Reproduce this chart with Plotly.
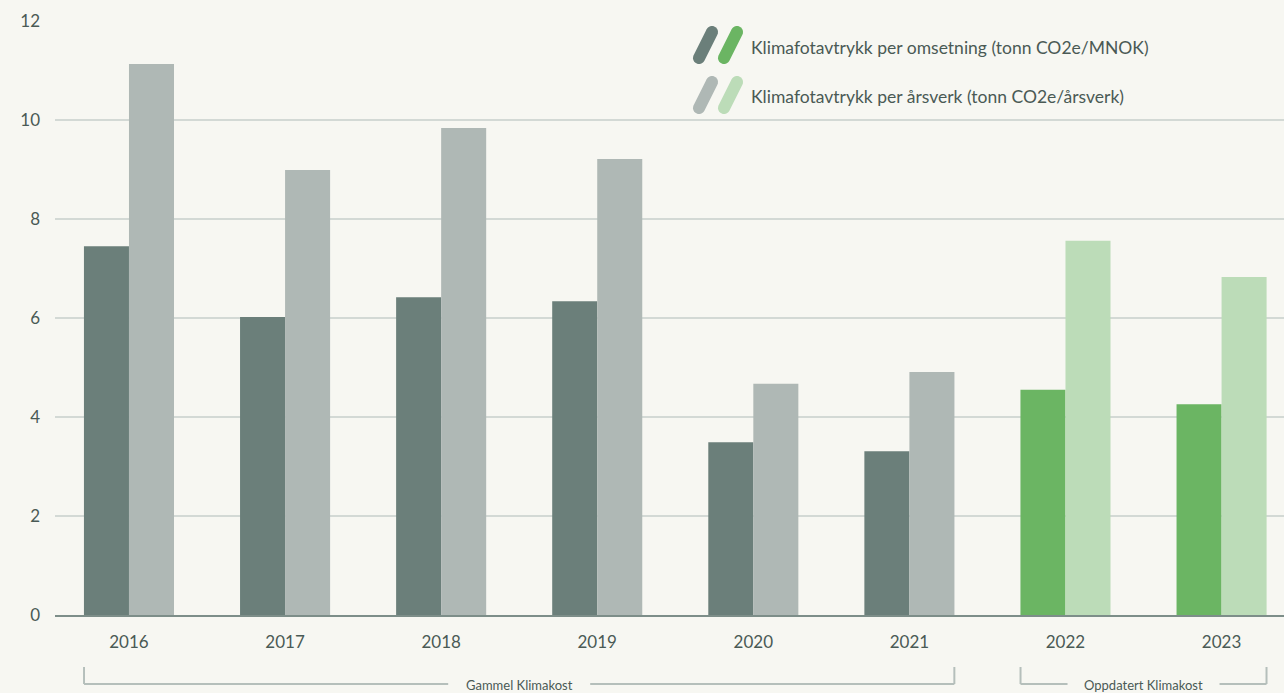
import math
import plotly.graph_objects as go

years = ["2016", "2017", "2018", "2019", "2020", "2021", "2022", "2023"]
per_omsetning = [7.45, 6.02, 6.42, 6.34, 3.49, 3.31, 4.55, 4.26]
per_arsverk = [11.13, 8.99, 9.84, 9.21, 4.67, 4.91, 7.56, 6.83]
legend_labels = ["Klimafotavtrykk per omsetning (tonn CO2e/MNOK)",
                 "Klimafotavtrykk per årsverk (tonn CO2e/årsverk)"]
group_labels = ["Gammel Klimakost", "Oppdatert Klimakost"]
y_ticks = [0, 2, 4, 6, 8, 10, 12]

W, H = 1284, 693
ML, MR, MT, MB = 55, 0, 21, 78
PW, PH = W - ML - MR, H - MT - MB

BG = "#f7f7f2"
DARK = "#6b7f7a"
GRAY = "#afb8b5"
GREEN = "#6bb563"
LGREEN = "#bcdcb8"
TXT = "#4a5a55"

c1 = [DARK] * 6 + [GREEN] * 2
c2 = [GRAY] * 6 + [LGREEN] * 2

fig = go.Figure()
fig.add_trace(go.Bar(x=years, y=per_omsetning, marker=dict(color=c1, line=dict(width=0)),
                     showlegend=False, hoverinfo="x+y"))
fig.add_trace(go.Bar(x=years, y=per_arsverk, marker=dict(color=c2, line=dict(width=0)),
                     showlegend=False, hoverinfo="x+y"))

def px2paper(px, py):
    return (px - ML) / PW, (H - MB - py) / PH

def capsule(ax, ay, bx, by, r, n=12):
    dx, dy = bx - ax, by - ay
    L = math.hypot(dx, dy)
    ux, uy = dx / L, dy / L
    base = math.atan2(uy, ux)
    pts = []
    for i in range(n + 1):
        a = base - math.pi / 2 + math.pi * i / n
        pts.append((bx + r * math.cos(a), by + r * math.sin(a)))
    for i in range(n + 1):
        a = base + math.pi / 2 + math.pi * i / n
        pts.append((ax + r * math.cos(a), ay + r * math.sin(a)))
    pp = [px2paper(x, y) for x, y in pts]
    return "M " + " L ".join(f"{x:.5f},{y:.5f}" for x, y in pp) + " Z"

shapes = []
pill_cols = [(DARK, GREEN), (GRAY, LGREEN)]
for row, (ca, cb) in enumerate(pill_cols):
    oy = row * 50
    for k, col in enumerate((ca, cb)):
        ox = k * 25
        shapes.append(dict(type="path", xref="paper", yref="paper",
                           path=capsule(699 + ox, 58 + oy, 712 + ox, 32 + oy, 6),
                           fillcolor=col, line=dict(width=0), layer="above"))

annotations = []
for row, lab in enumerate(legend_labels):
    x, y = px2paper(749, 47 + row * 49)
    annotations.append(dict(text=lab, x=x, y=y, xref="paper", yref="paper",
                            xanchor="left", yanchor="middle", showarrow=False,
                            font=dict(size=17.5, color=TXT)))

# group brackets (data x, pixel y)
BR = "#b5bfbb"
half = 0.288
y_top = px2paper(0, 667)[1]
y_bot = px2paper(0, 684)[1]
unit = PW / (7.40 + 0.474)
groups = [(0 - half, 5 + half, group_labels[0], 56), (6 - half, 7 + half, group_labels[1], 61)]
for x0, x1, lab, hw in groups:
    xc = (x0 + x1) / 2
    g = (hw + 15) / unit
    for xa, xb in ((x0, xc - g), (xc + g, x1)):
        shapes.append(dict(type="line", xref="x", yref="paper", x0=xa, x1=xb, y0=y_bot, y1=y_bot,
                           line=dict(color=BR, width=2)))
    for xv in (x0, x1):
        shapes.append(dict(type="line", xref="x", yref="paper", x0=xv, x1=xv, y0=y_top, y1=y_bot,
                           line=dict(color=BR, width=2)))
    annotations.append(dict(text=lab, x=xc, y=px2paper(0, 685)[1], xref="x", yref="paper",
                            xanchor="center", yanchor="middle", showarrow=False,
                            font=dict(size=13, color=TXT)))

fig.update_layout(
    width=W, height=H,
    margin=dict(l=ML, r=MR, t=MT, b=MB, pad=0),
    paper_bgcolor=BG, plot_bgcolor=BG,
    barmode="group", bargap=0.423, bargroupgap=0,
    font=dict(family="Lato, Noto Sans, sans-serif", color=TXT),
    shapes=shapes, annotations=annotations,
    xaxis=dict(type="category", range=[-0.474, 7.40], showgrid=False, zeroline=False,
               showline=True, linecolor="#7d8e89", linewidth=2,
               ticks="", tickfont=dict(size=17, color=TXT), ticklabelstandoff=11),
    yaxis=dict(range=[0, 12], tickvals=y_ticks, showgrid=True, gridcolor="#d3d9d5", gridwidth=1.5,
               zeroline=False, showline=False, ticks="",
               tickfont=dict(size=17, color=TXT), ticklabelstandoff=14),
)

fig.write_html("out.html", config={"displayModeBar": False},
               post_script="document.body.style.margin='0px';document.body.style.overflow='hidden';")
